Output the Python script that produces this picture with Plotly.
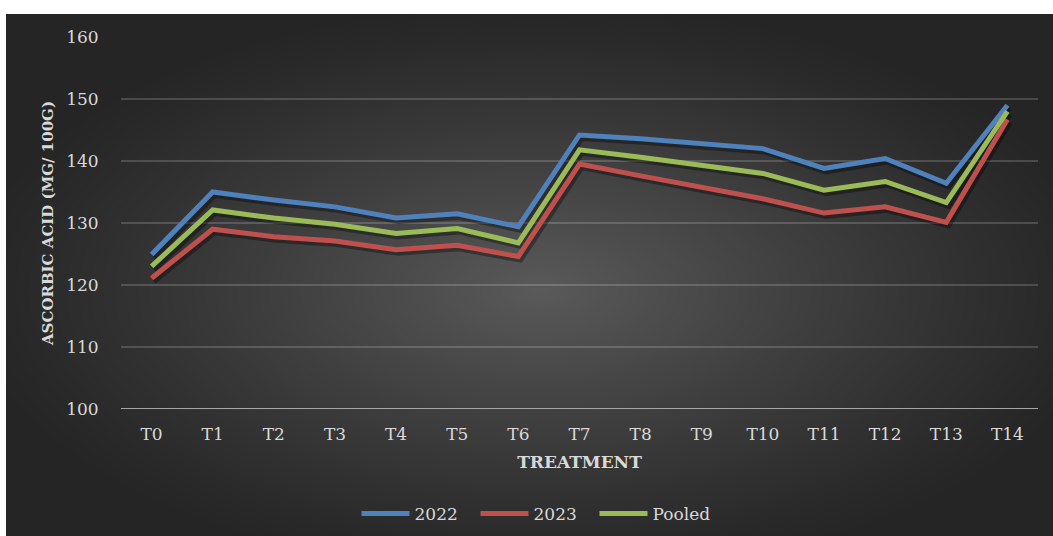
import base64, struct, zlib
import numpy as np
import plotly.graph_objects as go

treatments = ["T0", "T1", "T2", "T3", "T4", "T5", "T6", "T7", "T8", "T9", "T10", "T11", "T12", "T13", "T14"]
y2022 = [124.9, 135.0, 133.7, 132.6, 130.8, 131.5, 129.4, 144.2, 143.6, 142.8, 142.0, 138.8, 140.4, 136.4, 149.0]
y2023 = [121.1, 129.0, 127.8, 127.1, 125.7, 126.4, 124.6, 139.5, 137.6, 135.8, 133.9, 131.6, 132.6, 130.1, 146.7]
pooled = [123.0, 132.1, 130.8, 129.8, 128.3, 129.1, 126.8, 141.8, 140.6, 139.3, 138.0, 135.3, 136.7, 133.3, 148.0]
series_names = ["2022", "2023", "Pooled"]
series_colors = ["#4F81BD", "#C0504D", "#9BBB59"]
y_ticks = [100, 110, 120, 130, 140, 150, 160]

W, H = 1053, 536
ML, MR, MT, MB = 121, 15, 37, 127
PW, PH = W - ML - MR, H - MT - MB

# radial gradient background image (dark chart area)
bx0, by0 = 6, 14
bw, bh = W - bx0, H - by0
xx = np.arange(bw)[None, :]
yy = np.arange(bh)[:, None]
cx, cy = 540 - bx0, 290 - by0
d = np.sqrt(((xx - cx) / (bw / 2)) ** 2 + ((yy - cy) / (bh / 2)) ** 2)
t = np.clip(1 - d / 1.12, 0, 1) ** 1.15
gray = (0x25 + (0x5a - 0x25) * t).astype(np.uint8)
raw = b"".join(b"\x00" + gray[r].tobytes() for r in range(bh))
def chunk(tag, data):
    c = struct.pack(">I", len(data)) + tag + data
    return c + struct.pack(">I", zlib.crc32(tag + data) & 0xFFFFFFFF)
png = (b"\x89PNG\r\n\x1a\n" + chunk(b"IHDR", struct.pack(">IIBBBBB", bw, bh, 8, 0, 0, 0, 0))
       + chunk(b"IDAT", zlib.compress(raw, 9)) + chunk(b"IEND", b""))
src = "data:image/png;base64," + base64.b64encode(png).decode()

def px_to_paper_x(px):
    return (px - ML) / PW
def py_to_paper_y(py):
    return (H - MB - py) / PH

fig = go.Figure()
series = [y2022, y2023, pooled]

# shadows (overlay axes shifted by a few pixels)
for vals in series:
    fig.add_trace(go.Scatter(x=list(range(len(treatments))), y=vals, mode="lines",
                             line=dict(color="rgba(0,0,0,0.35)", width=6),
                             xaxis="x2", yaxis="y2", showlegend=False, hoverinfo="skip"))
for name, vals, col in zip(series_names, series, series_colors):
    fig.add_trace(go.Scatter(x=list(range(len(treatments))), y=vals, mode="lines", name=name,
                             line=dict(color=col, width=5), xaxis="x3", yaxis="y3"))
fig.add_trace(go.Scatter(x=[0], y=[100], mode="markers", marker=dict(opacity=0), showlegend=False, hoverinfo="skip"))

font_family = "DejaVu Serif"
tick_color = "#D9D9D9"
sx = 2 / (PW / 15)
sy = 3 / (PH / 60)
fig.update_layout(
    width=W, height=H,
    margin=dict(l=ML, r=MR, t=MT, b=MB, autoexpand=False),
    paper_bgcolor="white", plot_bgcolor="rgba(0,0,0,0)",
    font=dict(family=font_family, color=tick_color),
    showlegend=True,
    legend=dict(orientation="h", x=px_to_paper_x(535), xanchor="center", y=py_to_paper_y(514), yanchor="middle",
                font=dict(size=17, color=tick_color, family=font_family), bgcolor="rgba(0,0,0,0)",
                itemwidth=48, entrywidth=56),
    xaxis=dict(range=[-0.5, 14.5], tickvals=list(range(len(treatments))), ticktext=treatments,
               showgrid=False, zeroline=False, showline=False, automargin=False,
               ticks="outside", ticklen=10, tickcolor="rgba(0,0,0,0)",
               tickfont=dict(size=17, color=tick_color),
               title=dict(text="<b>TREATMENT</b>", font=dict(size=17, color=tick_color), standoff=12)),
    yaxis=dict(range=[100, 160], tickvals=y_ticks, showgrid=True, gridcolor="rgba(255,255,255,0.17)", gridwidth=1.5,
               zeroline=False, showline=False, automargin=False, ticks="outside", ticklen=18, tickcolor="rgba(0,0,0,0)",
               tickfont=dict(size=17, color=tick_color),
               title=dict(text="<b>ASCORBIC ACID (MG/ 100G)</b>", font=dict(size=15, color=tick_color), standoff=8)),
    xaxis2=dict(range=[-0.5 - sx, 14.5 - sx], overlaying="x", visible=False),
    yaxis2=dict(range=[100 + sy, 160 + sy], overlaying="y", visible=False),
    xaxis3=dict(range=[-0.5, 14.5], overlaying="x", visible=False),
    yaxis3=dict(range=[100, 160], overlaying="y", visible=False),
    images=[dict(source=src, xref="paper", yref="paper", x=px_to_paper_x(bx0), y=py_to_paper_y(by0),
                 sizex=bw / PW, sizey=bh / PH, xanchor="left", yanchor="top", sizing="stretch", layer="below")],
    shapes=[dict(type="line", xref="paper", yref="y", x0=0, x1=1, y0=100, y1=100,
                 line=dict(color="#A6A6A6", width=2), layer="below")],
)
fig.write_html("out.html")
